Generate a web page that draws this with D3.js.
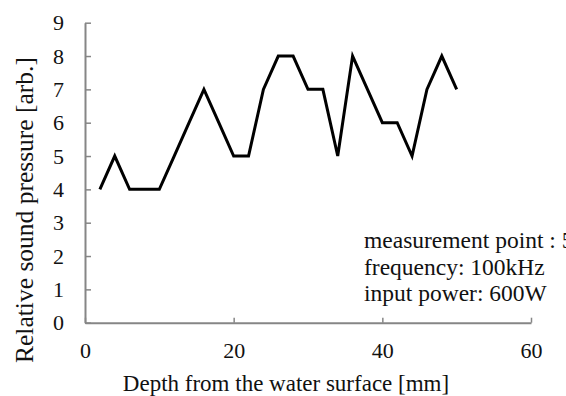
<!DOCTYPE html>
<html>
<head>
<meta charset="utf-8">
<script src="https://cdn.jsdelivr.net/npm/d3@7"></script>
<style>
  html, body { margin: 0; padding: 0; background: #fff; }
  svg text { font-family: 'Liberation Serif', 'Times New Roman', Times, serif; }
</style>
</head>
<body>
<div id="chart"></div>
<script>
// data
const depth = [2, 4, 6, 8, 10, 12, 14, 16, 18, 20, 22, 24, 26, 28, 30, 32, 34, 36, 38, 40, 42, 44, 46, 48, 50];
const pressure = [4, 5, 4, 4, 4, 5, 6, 7, 6, 5, 5, 7, 8, 8, 7, 7, 5, 8, 7, 6, 6, 5, 7, 8, 7];
const xTicks = [0, 20, 40, 60];
const yTicks = [0, 1, 2, 3, 4, 5, 6, 7, 8, 9];
const notes = ['measurement point : 5', 'frequency: 100kHz', 'input power: 600W'];

const width = 566;
const height = 396;
const margin = { top: 22.7, right: 35, bottom: 73.3, left: 85 };
const serif = "'Liberation Serif', 'Times New Roman', Times, serif";

const svg = d3.select('#chart')
  .append('svg')
  .attr('width', width)
  .attr('height', height)
  .attr('font-family', serif);

// scales
const x = d3.scaleLinear()
  .domain([0, 60])
  .range([margin.left, width - margin.right]);

const y = d3.scaleLinear()
  .domain([0, 9])
  .range([height - margin.bottom, margin.top]);

const axisColor = '#868686';

// x axis, ticks pointing inside
const gx = svg.append('g')
  .attr('transform', `translate(0,${y(0)})`)
  .call(d3.axisBottom(x).tickValues(xTicks).tickSizeInner(-5).tickSizeOuter(0).tickPadding(25));

// y axis, ticks pointing inside
const gy = svg.append('g')
  .attr('transform', `translate(${x(0)},0)`)
  .call(d3.axisLeft(y).tickValues(yTicks).tickSizeInner(-6).tickSizeOuter(0).tickPadding(21));

[gx, gy].forEach(g => {
  g.attr('font-family', serif).attr('font-size', 22);
  g.select('.domain').attr('stroke', axisColor).attr('stroke-width', 2);
  g.selectAll('.tick line').attr('stroke', axisColor).attr('stroke-width', 1.5);
  g.selectAll('.tick text').attr('fill', '#111');
});

gx.selectAll('.tick text').attr('dy', null).attr('y', 35);

// line
const line = d3.line()
  .x((d, i) => x(depth[i]))
  .y(d => y(d));

svg.append('path')
  .datum(pressure)
  .attr('fill', 'none')
  .attr('stroke', '#000')
  .attr('stroke-width', 3)
  .attr('d', line);

// axis titles
svg.append('text')
  .attr('x', 286)
  .attr('y', 391)
  .attr('text-anchor', 'middle')
  .attr('fill', '#111')
  .attr('font-size', 23)
  .text('Depth from the water surface [mm]');

svg.append('text')
  .attr('transform', 'translate(33,210) rotate(-90)')
  .attr('text-anchor', 'middle')
  .attr('fill', '#111')
  .attr('font-size', 25.5)
  .text('Relative sound pressure [arb.]');

// notes
svg.append('g')
  .selectAll('text')
  .data(notes)
  .enter()
  .append('text')
  .attr('x', 364)
  .attr('y', (d, i) => 248 + i * 26.5)
  .attr('fill', '#111')
  .attr('font-size', 23.5)
  .text(d => d);
</script>
</body>
</html>
